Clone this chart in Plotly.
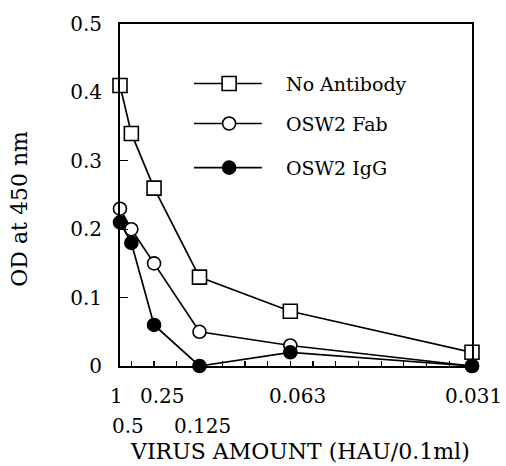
import plotly.graph_objects as go

# Data
dilution = [1, 2, 4, 8, 16, 32]          # reciprocal of virus amount
amount_labels = ["1", "0.5", "0.25", "0.125", "0.063", "0.031"]
label_row = [0, 1, 0, 1, 0, 0]
label_xshift = [-4, -3, 8, 3, 7, 1]

series_names = ["No Antibody", "OSW2 Fab", "OSW2 IgG"]
no_antibody = [0.41, 0.34, 0.26, 0.13, 0.08, 0.02]
osw2_fab = [0.23, 0.20, 0.15, 0.05, 0.03, 0.0]
osw2_igg = [0.21, 0.18, 0.06, 0.0, 0.02, 0.0]

FONT = "DejaVu Serif"
styles = [
    dict(symbol="square", size=14, color="white"),
    dict(symbol="circle", size=13, color="white"),
    dict(symbol="circle", size=13, color="black"),
]

fig = go.Figure()
for name, vals, st in zip(series_names, [no_antibody, osw2_fab, osw2_igg], styles):
    fig.add_trace(go.Scatter(
        x=dilution, y=vals, name=name, mode="lines+markers",
        line=dict(color="black", width=1.7),
        marker=dict(symbol=st["symbol"], size=st["size"], color=st["color"],
                    line=dict(color="black", width=1.6)),
        cliponaxis=False, showlegend=False, hoverinfo="skip",
    ))

# Hand-drawn style legend inside the plot
leg_rows = [0.826, 0.709, 0.580]
shapes = []
annotations = []
for name, st, yy in zip(series_names, styles, leg_rows):
    shapes.append(dict(type="line", xref="paper", yref="paper",
                       x0=0.210, x1=0.403, y0=yy, y1=yy,
                       line=dict(color="black", width=1.7)))
    half = st["size"] / 2
    shapes.append(dict(type="rect" if st["symbol"] == "square" else "circle",
                       xref="paper", yref="paper",
                       xsizemode="pixel", ysizemode="pixel",
                       xanchor=0.310, yanchor=yy,
                       x0=-half, x1=half, y0=-half, y1=half,
                       fillcolor=st["color"], line=dict(color="black", width=1.6),
                       layer="above"))
    annotations.append(dict(text=name, xref="paper", yref="paper", x=0.466, y=yy,
                            xanchor="left", yanchor="middle", showarrow=False,
                            font=dict(family=FONT, size=19, color="black")))

# x tick labels in two rows
for d, lab, row, xs in zip(dilution, amount_labels, label_row, label_xshift):
    annotations.append(dict(text=lab, xref="x", yref="paper", x=d, y=0,
                            xshift=xs, yshift=-30 - 30 * row,
                            xanchor="center", yanchor="middle", showarrow=False,
                            font=dict(family=FONT, size=20, color="black")))

annotations.append(dict(text="VIRUS AMOUNT (HAU/0.1ml)", xref="paper", yref="paper",
                        x=0.511, y=0, yshift=-85, xanchor="center", yanchor="middle",
                        showarrow=False, font=dict(family=FONT, size=22, color="black")))
annotations.append(dict(text="OD at 450 nm", xref="paper", yref="paper",
                        x=-0.284, y=0.46, textangle=-90, xanchor="center", yanchor="middle",
                        showarrow=False, font=dict(family=FONT, size=22, color="black")))

fig.update_layout(
    width=506, height=466,
    margin=dict(l=120, r=34, t=16, b=100),
    paper_bgcolor="white", plot_bgcolor="white",
    shapes=shapes, annotations=annotations,
    xaxis=dict(range=[1, 32], showgrid=False, zeroline=False,
               showline=True, mirror=True, linecolor="black", linewidth=2,
               ticks="inside", tick0=0, dtick=2, ticklen=5, tickwidth=1.2,
               tickcolor="black", showticklabels=False),
    yaxis=dict(range=[0, 0.5], showgrid=False, zeroline=False,
               showline=True, mirror=True, linecolor="black", linewidth=2,
               ticks="inside", dtick=0.1, ticklen=8, tickwidth=1.2, tickcolor="black",
               tickfont=dict(family=FONT, size=20, color="black"),
               ticklabelstandoff=12),
)

fig.write_html("out.html", config={"displayModeBar": False, "staticPlot": True},
               post_script="document.body.style.margin='0';document.body.style.overflow='hidden';")
